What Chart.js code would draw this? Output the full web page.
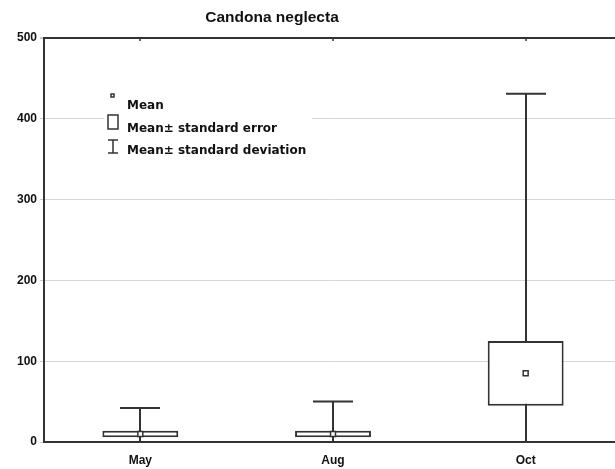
<!DOCTYPE html>
<html>
<head>
<meta charset="utf-8">
<script src="https://cdn.jsdelivr.net/npm/chart.js@4.4.1/dist/chart.umd.min.js"></script>
<style>
    html, body { margin: 0; padding: 0; background: #fff; }
    #wrap { width: 615px; height: 469px; overflow: hidden; position: relative; }
    #wrap canvas { display: block; }
</style>
</head>
<body>
<div id="wrap"><canvas id="chart" width="630" height="469"></canvas></div>
<script>
// sampling months
const months = ['May', 'Aug', 'Oct'];
// Candona neglecta abundance
const means = [10, 10, 85];
const stdErrors = [4, 4, 40];
const stdDevs = [32, 40, 346];
const yTicks = [0, 100, 200, 300, 400, 500];

const seBoxes = means.map((m, i) => [m - stdErrors[i], m + stdErrors[i]]);
const sdRanges = means.map((m, i) => [m - stdDevs[i], m + stdDevs[i]]);

const FONT = "'Liberation Sans', Arial, sans-serif";
const LEGEND_FONT = "'DejaVu Sans', sans-serif";
const INK = '#333';

// whiskers go under the boxes so the white fill hides the middle part
const whiskerPlugin = {
    id: 'whiskers',
    beforeDatasetsDraw(chart) {
        const { ctx, chartArea, scales: { x, y } } = chart;
        ctx.save();
        ctx.beginPath();
        ctx.rect(chartArea.left, chartArea.top, chartArea.right - chartArea.left, chartArea.bottom - chartArea.top);
        ctx.clip();
        ctx.strokeStyle = INK;
        ctx.lineWidth = 2;
        sdRanges.forEach(([lo, hi], i) => {
            const cx = Math.round(x.getPixelForValue(i));
            const top = y.getPixelForValue(hi);
            const bot = y.getPixelForValue(lo);
            ctx.beginPath();
            ctx.moveTo(cx, top);
            ctx.lineTo(cx, bot);
            ctx.moveTo(cx - 20, top);
            ctx.lineTo(cx + 20, top);
            ctx.stroke();
        });
        // small ticks under the top frame line
        ctx.lineWidth = 1.5;
        months.forEach((m, i) => {
            const cx = Math.round(x.getPixelForValue(i));
            ctx.beginPath();
            ctx.moveTo(cx, chartArea.top);
            ctx.lineTo(cx, chartArea.top + 3);
            ctx.stroke();
        });
        ctx.restore();
    },
    afterDraw(chart) {
        const { ctx } = chart;
        ctx.save();
        // title
        ctx.fillStyle = '#111';
        ctx.font = 'bold 15.5px ' + FONT;
        ctx.textAlign = 'center';
        ctx.textBaseline = 'alphabetic';
        ctx.fillText('Candona neglecta', 272, 22);

        // legend block (covers the grid line behind it)
        ctx.fillStyle = '#fff';
        ctx.fillRect(104, 88, 208, 70);
        ctx.strokeStyle = INK;
        ctx.lineWidth = 1.5;
        ctx.strokeRect(111, 94, 3, 3);
        ctx.strokeRect(108, 115, 10, 14);
        ctx.beginPath();
        ctx.moveTo(113, 140); ctx.lineTo(113, 153);
        ctx.moveTo(108, 140); ctx.lineTo(118, 140);
        ctx.moveTo(108, 153); ctx.lineTo(118, 153);
        ctx.stroke();

        ctx.fillStyle = '#111';
        ctx.font = 'bold 12px ' + LEGEND_FONT;
        ctx.textAlign = 'left';
        ctx.fillText('Mean', 127, 109);
        ctx.fillText('Mean\u00b1 standard error', 127, 132);
        ctx.fillText('Mean\u00b1 standard deviation', 127, 154);
        ctx.restore();
    }
};

new Chart(document.getElementById('chart'), {
    type: 'bar',
    data: {
        labels: months,
        datasets: [
            {
                type: 'line',
                label: 'Mean',
                data: means,
                showLine: false,
                pointStyle: 'rect',
                pointRadius: 3.5,
                pointBackgroundColor: '#fff',
                pointBorderColor: INK,
                pointBorderWidth: 1.5,
                order: 0
            },
            {
                label: 'Mean\u00b1 standard error',
                data: seBoxes,
                backgroundColor: '#fff',
                borderColor: INK,
                borderWidth: 2,
                borderSkipped: false,
                categoryPercentage: 1,
                barPercentage: 0.394,
                order: 1
            }
        ]
    },
    options: {
        responsive: false,
        animation: false,
        layout: { padding: { top: 38, right: 8, left: 0, bottom: 0 } },
        plugins: {
            legend: { display: false },
            title: { display: false },
            tooltip: { enabled: false }
        },
        scales: {
            x: {
                grid: { display: false },
                border: { display: true, color: INK, width: 2 },
                ticks: { color: '#111', font: { family: FONT, size: 12, weight: 'bold' }, padding: 3 },
                afterFit(scale) { scale.height = 27; }
            },
            y: {
                min: 0,
                max: 500,
                afterBuildTicks(scale) { scale.ticks = yTicks.map(v => ({ value: v })); },
                grid: {
                    color: ctx => ctx.tick && ctx.tick.value === 500 ? INK : (ctx.tick && ctx.tick.value === 0 ? 'rgba(0,0,0,0)' : '#d6d6d6'),
                    lineWidth: ctx => ctx.tick && ctx.tick.value === 500 ? 2 : 1,
                    tickColor: '#c8c8c8',
                    tickLength: 4
                },
                border: { display: true, color: INK, width: 2 },
                ticks: { color: '#111', font: { family: FONT, size: 12, weight: 'bold' }, padding: 3 },
                afterFit(scale) { scale.width = 44; }
            }
        }
    },
    plugins: [whiskerPlugin]
});
</script>
</body>
</html>
